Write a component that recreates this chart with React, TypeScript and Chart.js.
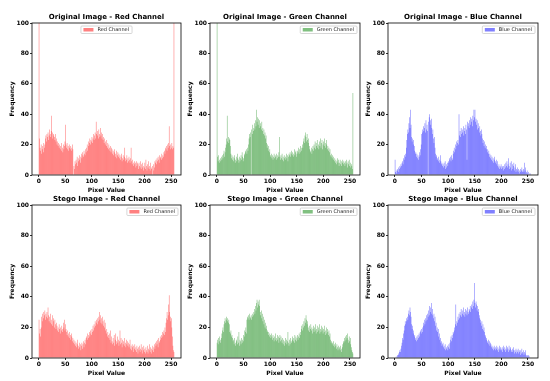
import React, { useEffect, useRef } from "react";
import { Chart, registerables } from "chart.js";

Chart.register(...registerables);

const FONT = "'DejaVu Sans', sans-serif";

// Bin centres of a 256-bin histogram (edges 0..256)
const binCenters: number[] = Array.from({ length: 256 }, (_, i) => i + 0.5);
const xTickValues = [0, 50, 100, 150, 200, 250];
const yTickValues = [0, 20, 40, 60, 80, 100];
const xLabel = "Pixel Value";
const yLabel = "Frequency";

const originalRed = [
  150, 24, 18, 16, 20, 14, 17, 19, 15, 21,
  18, 20, 24, 26, 22, 27, 25, 28, 23, 26,
  30, 27, 25, 29, 39, 28, 24, 27, 26, 25,
  23, 27, 22, 24, 20, 22, 19, 21, 18, 20,
  17, 19, 21, 16, 18, 15, 20, 17, 19, 22,
  33, 20, 18, 21, 17, 19, 16, 20, 18, 17,
  19, 16, 18, 20, 17, 0, 6, 4, 9, 7,
  10, 8, 12, 6, 11, 9, 13, 10, 8, 12,
  14, 11, 15, 13, 12, 16, 14, 13, 17, 15,
  18, 20, 16, 22, 19, 21, 24, 20, 23, 22,
  25, 21, 24, 27, 23, 26, 28, 24, 35, 27,
  26, 29, 24, 30, 27, 25, 31, 26, 28, 24,
  27, 23, 25, 21, 24, 20, 22, 19, 23, 18,
  21, 17, 20, 18, 16, 19, 15, 18, 17, 14,
  16, 13, 15, 17, 12, 14, 16, 11, 13, 15,
  12, 14, 11, 13, 10, 12, 14, 9, 11, 13,
  10, 12, 18, 9, 11, 10, 13, 8, 11, 9,
  12, 10, 8, 11, 18, 9, 7, 10, 8, 6,
  9, 7, 8, 5, 9, 6, 8, 7, 4, 8,
  6, 5, 9, 4, 7, 5, 8, 3, 6, 5,
  8, 4, 10, 6, 3, 7, 5, 9, 4, 6,
  3, 8, 5, 4, 6, 0, 7, 3, 5, 9,
  8, 10, 7, 11, 9, 12, 10, 8, 13, 11,
  12, 10, 14, 11, 13, 12, 15, 16, 14, 18,
  17, 19, 16, 20, 18, 21, 32, 19, 17, 20,
  18, 21, 17, 19, 18, 150,
];

const originalGreen = [
  150, 12, 9, 13, 8, 10, 11, 9, 12, 10,
  13, 11, 14, 16, 12, 15, 18, 20, 24, 39,
  22, 25, 21, 24, 23, 19, 14, 11, 13, 10,
  12, 9, 11, 13, 8, 10, 12, 9, 14, 11,
  10, 8, 12, 9, 11, 13, 10, 15, 12, 9,
  11, 14, 13, 16, 15, 17, 14, 18, 16, 20,
  24, 27, 25, 28, 0, 30, 27, 33, 29, 31,
  34, 30, 36, 32, 43, 35, 38, 33, 37, 31,
  36, 32, 34, 30, 35, 29, 31, 27, 30, 26,
  28, 24, 26, 21, 18, 20, 16, 19, 15, 17,
  13, 12, 14, 11, 13, 10, 12, 14, 11, 13,
  12, 10, 14, 11, 13, 12, 15, 25, 12, 10,
  13, 11, 14, 10, 12, 9, 13, 11, 12, 10,
  14, 11, 13, 9, 12, 14, 13, 15, 12, 14,
  16, 13, 15, 12, 14, 17, 13, 15, 16, 12,
  14, 16, 15, 18, 14, 17, 15, 19, 16, 18,
  20, 18, 22, 24, 21, 26, 28, 25, 22, 27,
  23, 21, 24, 19, 17, 15, 16, 18, 14, 17,
  19, 16, 20, 18, 22, 17, 21, 19, 23, 18,
  20, 17, 22, 19, 24, 18, 21, 23, 17, 20,
  22, 19, 24, 21, 18, 23, 20, 17, 19, 16,
  18, 15, 17, 13, 12, 14, 11, 13, 10, 12,
  9, 11, 8, 10, 7, 9, 11, 8, 10, 6,
  8, 10, 7, 9, 6, 8, 10, 7, 9, 8,
  6, 9, 7, 10, 8, 5, 9, 7, 10, 6,
  8, 5, 7, 6, 4, 54,
];

const originalBlue = [
  10, 2, 3, 1, 4, 3, 5, 2, 4, 6,
  5, 7, 6, 8, 9, 7, 11, 10, 13, 12,
  14, 18, 23, 27, 30, 28, 34, 38, 31, 43,
  33, 25, 22, 24, 20, 23, 19, 16, 14, 15,
  12, 14, 11, 13, 10, 12, 15, 13, 17, 20,
  27, 30, 28, 32, 29, 31, 34, 28, 36, 30,
  33, 29, 0, 35, 38, 40, 36, 33, 37, 31,
  27, 30, 24, 21, 25, 18, 14, 12, 13, 10,
  11, 9, 12, 8, 10, 13, 9, 7, 8, 6,
  7, 5, 8, 6, 9, 4, 7, 5, 8, 6,
  9, 8, 11, 10, 12, 9, 13, 11, 10, 14,
  16, 18, 15, 20, 17, 22, 19, 21, 23, 20,
  40, 26, 29, 25, 31, 27, 30, 28, 32, 26,
  29, 31, 27, 33, 30, 10, 35, 32, 34, 31,
  36, 33, 38, 35, 37, 32, 39, 36, 43, 38,
  43, 35, 37, 33, 36, 30, 34, 31, 28, 32,
  29, 26, 30, 27, 24, 21, 23, 19, 22, 18,
  20, 17, 19, 15, 17, 14, 16, 12, 14, 11,
  13, 10, 12, 9, 11, 8, 10, 12, 9, 8,
  10, 7, 9, 6, 5, 7, 4, 6, 5, 7,
  4, 6, 5, 3, 6, 4, 7, 5, 8, 6,
  9, 5, 7, 11, 6, 4, 8, 5, 9, 3,
  7, 4, 6, 8, 3, 5, 7, 2, 4, 3,
  5, 2, 4, 3, 1, 4, 2, 3, 5, 2,
  3, 4, 2, 8, 3, 5, 1, 2, 3, 1,
  2, 0, 1, 0, 1, 0,
];

const stegoRed = [
  25, 16, 19, 14, 20, 27, 24, 29, 26, 30,
  28, 31, 25, 29, 27, 30, 26, 33, 28, 24,
  27, 23, 29, 25, 22, 28, 21, 26, 24, 20,
  25, 22, 19, 23, 21, 18, 20, 17, 22, 19,
  16, 20, 18, 21, 17, 19, 23, 20, 25, 18,
  22, 19, 17, 15, 18, 14, 16, 13, 17, 15,
  12, 16, 14, 11, 13, 10, 12, 9, 11, 8,
  10, 7, 9, 12, 8, 6, 10, 7, 9, 5,
  8, 10, 6, 9, 11, 7, 10, 12, 9, 13,
  14, 12, 16, 13, 15, 17, 14, 18, 16, 15,
  19, 17, 21, 18, 22, 20, 24, 21, 23, 25,
  22, 26, 24, 27, 30, 25, 28, 23, 26, 22,
  27, 24, 21, 25, 20, 23, 18, 16, 19, 14,
  17, 15, 13, 16, 12, 18, 10, 14, 11, 9,
  13, 10, 15, 8, 12, 16, 9, 11, 14, 10,
  12, 8, 11, 18, 9, 13, 10, 7, 12, 9,
  11, 8, 13, 10, 7, 12, 9, 11, 8, 10,
  7, 9, 12, 6, 8, 5, 9, 7, 4, 8,
  6, 9, 5, 7, 4, 8, 6, 3, 7, 5,
  8, 4, 6, 9, 5, 3, 7, 5, 8, 4,
  6, 3, 7, 5, 4, 8, 3, 6, 5, 9,
  4, 7, 3, 6, 5, 8, 4, 7, 9, 6,
  10, 8, 11, 9, 12, 7, 13, 10, 11, 14,
  12, 15, 13, 17, 14, 16, 18, 15, 20, 17,
  23, 26, 30, 25, 28, 35, 41, 30, 27, 24,
  26, 20, 14, 8, 5, 4,
];

const stegoGreen = [
  10, 12, 9, 13, 11, 14, 10, 12, 13, 16,
  18, 20, 17, 22, 24, 26, 23, 25, 27, 24,
  26, 23, 25, 22, 17, 16, 18, 14, 15, 13,
  11, 12, 9, 13, 10, 8, 12, 11, 9, 14,
  10, 17, 8, 12, 11, 9, 13, 10, 12, 11,
  15, 14, 18, 17, 20, 16, 25, 27, 26, 28,
  25, 29, 27, 26, 28, 25, 29, 27, 28, 30,
  32, 29, 34, 31, 36, 38, 33, 37, 35, 38,
  34, 30, 28, 31, 26, 29, 24, 27, 22, 25,
  20, 23, 19, 21, 17, 18, 15, 17, 14, 16,
  15, 13, 16, 14, 12, 15, 13, 11, 14, 12,
  16, 13, 11, 15, 12, 14, 10, 13, 15, 11,
  14, 12, 10, 13, 9, 12, 11, 8, 13, 10,
  12, 9, 11, 17, 10, 8, 12, 9, 13, 11,
  10, 12, 14, 11, 13, 10, 15, 12, 14, 11,
  13, 15, 12, 14, 16, 13, 17, 15, 19, 21,
  18, 22, 20, 24, 21, 26, 23, 28, 25, 22,
  24, 20, 18, 21, 17, 19, 22, 18, 20, 16,
  19, 21, 17, 20, 18, 22, 16, 19, 21, 17,
  20, 18, 22, 16, 19, 17, 21, 18, 20, 16,
  19, 17, 21, 15, 18, 20, 16, 19, 17, 15,
  18, 14, 16, 12, 10, 11, 9, 10, 8, 11,
  9, 7, 10, 8, 6, 9, 7, 5, 8, 6,
  7, 5, 8, 6, 4, 7, 9, 11, 10, 13,
  11, 14, 12, 15, 13, 16, 12, 10, 14, 11,
  13, 9, 7, 5, 4, 3,
];

const stegoBlue = [
  0, 0, 1, 0, 1, 2, 3, 2, 4, 5,
  4, 6, 8, 10, 13, 12, 16, 18, 21, 24,
  22, 26, 24, 27, 25, 29, 31, 28, 33, 30,
  27, 22, 19, 21, 16, 18, 14, 15, 12, 13,
  11, 14, 12, 15, 13, 16, 14, 17, 18, 16,
  19, 17, 20, 23, 21, 25, 22, 26, 24, 28,
  25, 29, 27, 31, 28, 34, 30, 33, 36, 29,
  32, 28, 26, 29, 24, 27, 21, 23, 18, 20,
  17, 19, 14, 16, 12, 13, 10, 11, 8, 9,
  10, 7, 8, 6, 9, 5, 7, 6, 8, 5,
  7, 9, 6, 10, 12, 14, 11, 15, 13, 17,
  16, 18, 20, 22, 35, 21, 24, 23, 27, 25,
  29, 26, 30, 28, 32, 27, 31, 29, 33, 28,
  30, 27, 32, 29, 31, 28, 33, 30, 29, 32,
  31, 34, 30, 33, 35, 32, 37, 34, 38, 49,
  36, 33, 37, 35, 31, 34, 30, 32, 28, 26,
  25, 23, 21, 24, 19, 22, 18, 20, 17, 15,
  14, 12, 13, 11, 10, 12, 9, 11, 8, 10,
  9, 7, 8, 6, 7, 5, 8, 6, 7, 5,
  6, 8, 5, 7, 4, 6, 8, 5, 7, 6,
  5, 7, 4, 6, 8, 5, 7, 4, 6, 8,
  5, 7, 6, 4, 8, 5, 6, 7, 4, 5,
  6, 4, 7, 5, 3, 5, 4, 6, 3, 5,
  4, 6, 3, 5, 4, 2, 5, 3, 6, 4,
  3, 5, 2, 4, 3, 5, 2, 1, 2, 1,
  1, 2, 1, 0, 0, 0,
];

const titles = [
  "Original Image - Red Channel",
  "Original Image - Green Channel",
  "Original Image - Blue Channel",
  "Stego Image - Red Channel",
  "Stego Image - Green Channel",
  "Stego Image - Blue Channel",
];
const seriesLabels = ["Red Channel", "Green Channel", "Blue Channel", "Red Channel", "Green Channel", "Blue Channel"];
const seriesValues = [originalRed, originalGreen, originalBlue, stegoRed, stegoGreen, stegoBlue];
const barColors = [
  "rgba(255,0,0,0.57)",
  "rgba(0,128,0,0.57)",
  "rgba(0,0,255,0.57)",
  "rgba(255,0,0,0.57)",
  "rgba(0,128,0,0.57)",
  "rgba(0,0,255,0.57)",
];
const legendColors = ["#ff8080", "#80c080", "#8080ff", "#ff8080", "#80c080", "#8080ff"];
const legendAligns = ["center", "end", "end", "end", "end", "end"];

// layout (plot rectangles in page pixels)
const COLS = [
  { left: 32, w: 149 },
  { left: 210, w: 150 },
  { left: 388, w: 150 },
];
const ROWS = [
  { top: 23, h: 152 },
  { top: 205, h: 153 },
];
const LEFT_AXIS = 32;
const TOP_BLOCK = 23;
const BOTTOM_AXIS = 22;
const RIGHT_PAD = 4;

const framePlugin = {
  id: "frame",
  afterDraw(chart: any) {
    const { ctx, chartArea } = chart;
    const { left, top, right, bottom } = chartArea;
    ctx.save();
    ctx.strokeStyle = "#000";
    ctx.lineWidth = 0.8;
    ctx.strokeRect(left, top, right - left, bottom - top);
    ctx.restore();
  },
};

const legendPlugin = {
  id: "boxLegend",
  afterDraw(chart: any, _args: any, opts: any) {
    const { ctx, chartArea } = chart;
    const ds = chart.data.datasets[0];
    const label = ds.label as string;
    ctx.save();
    ctx.font = `normal 5px ${FONT}`;
    const tw = ctx.measureText(label).width;
    const boxW = 2.5 + 10 + 4 + tw + 3;
    const boxH = 7.5;
    const x =
      opts.align === "center"
        ? (chartArea.left + chartArea.right) / 2 - boxW / 2
        : chartArea.right - 3 - boxW;
    const y = chartArea.top + 3;
    ctx.fillStyle = "rgba(255,255,255,0.8)";
    ctx.strokeStyle = "#cccccc";
    ctx.lineWidth = 0.8;
    ctx.beginPath();
    if ((ctx as any).roundRect) (ctx as any).roundRect(x, y, boxW, boxH, 1);
    else ctx.rect(x, y, boxW, boxH);
    ctx.fill();
    ctx.stroke();
    ctx.fillStyle = opts.color;
    ctx.fillRect(x + 2.5, y + (boxH - 3.5) / 2, 10, 3.5);
    ctx.fillStyle = "#222";
    ctx.textBaseline = "middle";
    ctx.textAlign = "left";
    ctx.fillText(label, x + 2.5 + 10 + 4, y + boxH / 2 + 0.3);
    ctx.restore();
  },
};

function Panel({ idx }: { idx: number }) {
  const ref = useRef<HTMLCanvasElement | null>(null);
  const col = COLS[idx % 3];
  const row = ROWS[Math.floor(idx / 3)];
  const width = LEFT_AXIS + col.w + RIGHT_PAD;
  const height = TOP_BLOCK + row.h + BOTTOM_AXIS;

  useEffect(() => {
    if (!ref.current) return;
    const tickFont = { family: FONT, size: 6, weight: "bold" as const, lineHeight: 1.2 };
    const values = seriesValues[idx];
    const chart = new Chart(ref.current, {
      type: "bar",
      data: {
        datasets: [
          {
            label: seriesLabels[idx],
            data: binCenters.map((x, i) => ({ x, y: values[i] })),
            backgroundColor: barColors[idx],
            borderWidth: 0,
            barPercentage: 1,
            categoryPercentage: 1,
            inflateAmount: 0,
            grouped: false,
          } as any,
        ],
      },
      options: {
        animation: false,
        responsive: false,
        devicePixelRatio: 1,
        layout: { padding: { left: 0, top: 0, bottom: 0, right: RIGHT_PAD } },
        plugins: {
          legend: { display: false },
          tooltip: { enabled: false },
          title: {
            display: true,
            text: titles[idx],
            fullSize: false,
            color: "#000",
            font: { family: FONT, size: 7, weight: "bold", lineHeight: 1.2 },
            padding: { top: 12.8, bottom: 1.8 },
          },
          boxLegend: { align: legendAligns[idx], color: legendColors[idx] },
        } as any,
        scales: {
          x: {
            type: "linear",
            min: -12.8,
            max: 268.8,
            offset: false,
            afterBuildTicks: (s: any) => {
              s.ticks = xTickValues.map((v) => ({ value: v }));
            },
            afterFit: (s: any) => {
              s.height = BOTTOM_AXIS;
            },
            grid: {
              display: true,
              drawOnChartArea: false,
              drawTicks: true,
              tickLength: 2,
              color: "#000",
              lineWidth: 0.8,
              offset: false,
            },
            border: { display: false },
            ticks: { color: "#000", font: tickFont, padding: 1, maxRotation: 0, autoSkip: false },
            title: {
              display: true,
              text: xLabel,
              color: "#000",
              font: tickFont,
              padding: { top: 0, bottom: 3.4 },
            },
          },
          y: {
            type: "linear",
            min: 0,
            max: 100,
            afterBuildTicks: (s: any) => {
              s.ticks = yTickValues.map((v) => ({ value: v }));
            },
            afterFit: (s: any) => {
              s.width = LEFT_AXIS;
            },
            grid: {
              display: true,
              drawOnChartArea: false,
              drawTicks: true,
              tickLength: 2,
              color: "#000",
              lineWidth: 0.8,
            },
            border: { display: false },
            ticks: { color: "#000", font: tickFont, padding: 1 },
            title: {
              display: true,
              text: yLabel,
              color: "#000",
              font: tickFont,
              padding: { top: 8.4, bottom: 0 },
            },
          },
        } as any,
      },
      plugins: [framePlugin, legendPlugin],
    });
    return () => chart.destroy();
  }, [idx]);

  return (
    <canvas
      ref={ref}
      width={width}
      height={height}
      style={{
        position: "absolute",
        left: col.left - LEFT_AXIS,
        top: row.top - TOP_BLOCK,
        width,
        height,
      }}
    />
  );
}

export default function App() {
  return (
    <div
      style={{
        position: "fixed",
        left: 0,
        top: 0,
        width: 550,
        height: 381,
        background: "#ffffff",
        overflow: "hidden",
      }}
    >
      {titles.map((_, i) => (
        <Panel key={i} idx={i} />
      ))}
    </div>
  );
}
